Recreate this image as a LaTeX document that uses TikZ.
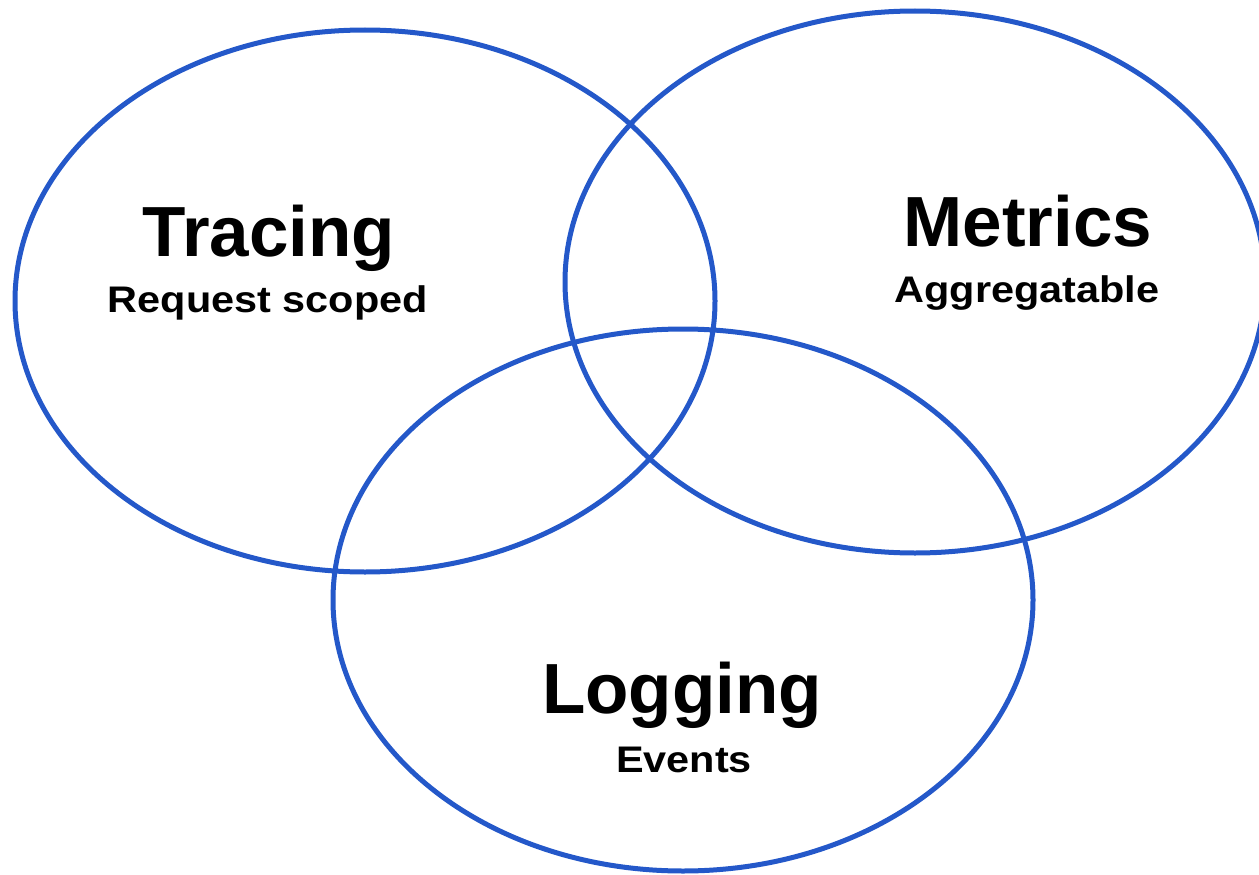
\documentclass[tikz,border=0pt]{standalone}
\usepackage{fontspec}
\setmainfont{Liberation Sans}
\newfontfamily\subfont[FakeStretch=1.12]{Liberation Sans}
\usetikzlibrary{shapes.geometric}
\definecolor{ringblue}{RGB}{36,88,201}
\tikzset{
  ring/.style={ellipse, draw=ringblue, line width=5pt, minimum width=700pt, minimum height=542pt, inner sep=0pt},
  title/.style={anchor=base, inner sep=0pt, font=\fontsize{71}{71}\selectfont\bfseries},
  subtitle/.style={anchor=base, inner sep=0pt, font=\fontsize{37}{37}\subfont\bfseries}
}
\begin{document}
\begin{tikzpicture}[x=1pt,y=1pt]
  \useasboundingbox (0,0) rectangle (1259,-875);
  \clip (0,0) rectangle (1259,-875);
  % the three overlapping circles
  \node[ring] (tracing) at (365,-301) {};
  \node[ring] (metrics) at (915,-282) {};
  \node[ring] (logging) at (683,-600) {};
  % labels
  \node[title]    (tracingT) at (269,-256) {Tracing};
  \node[subtitle] (tracingS) at (268,-312) {Request scoped};
  \node[title]    (metricsT) at (1028,-246) {Metrics};
  \node[subtitle] (metricsS) at (1027,-302) {Aggregatable};
  \node[title]    (loggingT) at (682,-713) {Logging};
  \node[subtitle] (loggingS) at (684,-772) {Events};
\end{tikzpicture}
\end{document}
